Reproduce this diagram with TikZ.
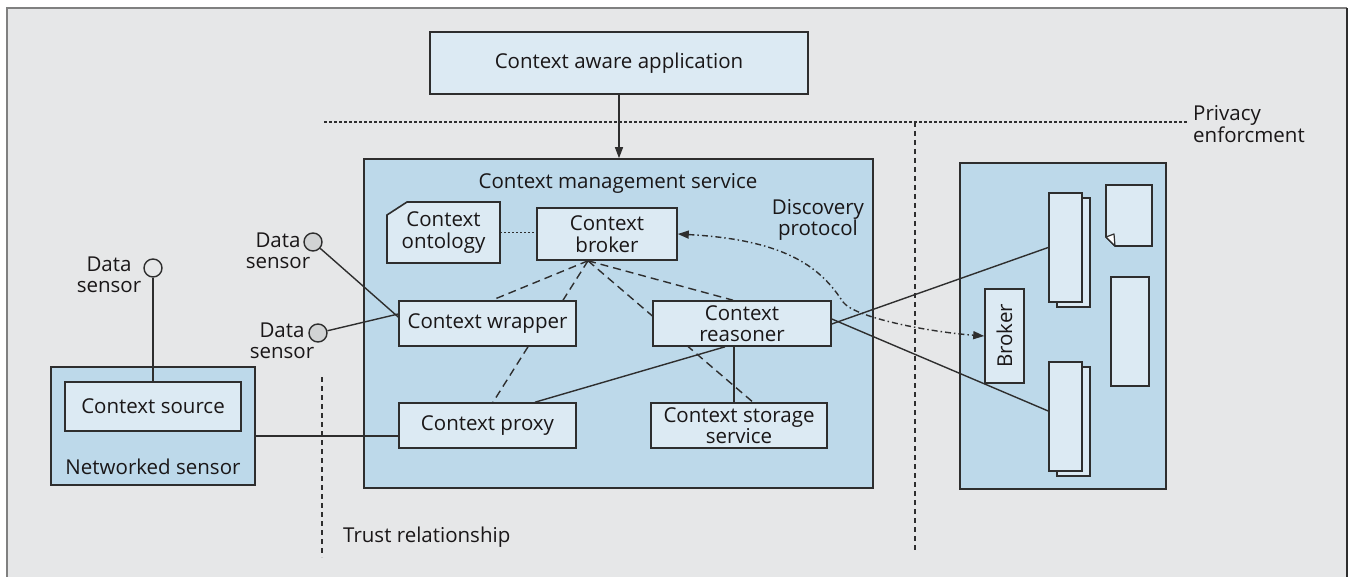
\documentclass[tikz,border=0pt]{standalone}
\usepackage{fontspec}
\setmainfont{Open Sans}
\usetikzlibrary{arrows.meta,calc}
\definecolor{bgc}{HTML}{E6E7E8}
\definecolor{contf}{HTML}{BDD9EA}
\definecolor{boxf}{HTML}{DCEAF3}
\definecolor{lc}{HTML}{2E2E2E}
\definecolor{txt}{HTML}{1A1718}
\definecolor{sensf}{HTML}{D1D3D4}
\definecolor{framec}{HTML}{808080}
\pgfdeclarelayer{back}
\pgfdeclarelayer{lines}
\pgfsetlayers{back,lines,main}
\begin{document}
\begin{tikzpicture}[x=1pt,y=-1pt,
  font=\fontsize{20.5}{21.5}\selectfont,
  every node/.style={text=txt},
  box/.style={draw=lc, fill=boxf, line width=1.6pt, inner sep=0pt, align=center},
  contbox/.style={draw=lc, fill=contf, line width=1.6pt, inner sep=0pt},
  conn/.style={draw=lc, line width=1.4pt},
  dashconn/.style={conn, dash pattern=on 8pt off 5pt},
  dotconn/.style={conn, dash pattern=on 2pt off 2pt},
  sepline/.style={draw=lc, line width=2.4pt, dash pattern=on 5pt off 4pt},
  sepdots/.style={draw=lc, line width=2.4pt, dash pattern=on 3pt off 2pt},
  sensor/.style={circle, draw=lc, line width=1.4pt, minimum size=18pt, inner sep=0pt},
  lbl/.style={align=center, inner sep=0pt}
]
\useasboundingbox (0,0) rectangle (1351,577);

% ---------- background layer: frame and containers
\begin{pgfonlayer}{back}
  \fill[white] (0,0) rectangle (1351,577);
  \fill[bgc] (7,8) rectangle (1347,577);
  \draw[framec, line width=2pt] (7,577) -- (7,8) -- (1347,8);
  \draw[lc, line width=2pt] (1347,8) -- (1347,577);
  \node[contbox, minimum width=509, minimum height=329] (cms) at (618.5,323.5) {};
  \node[contbox, minimum width=206, minimum height=326] (rc) at (1063,326) {};
  \node[contbox, minimum width=204, minimum height=118] (ns) at (153,426) {};
\end{pgfonlayer}

% ---------- boxes
\node[box, minimum width=378, minimum height=62] (app) at (619,63) {Context aware application};
\node[lbl] (cmstitle) at (618,183) {Context management service};
\node[lbl] (ont) at (443.5,232.5) {Context\\ontology};
\node[box, minimum width=140, minimum height=52] (broker) at (607,234) {Context\\broker};
\node[box, minimum width=177, minimum height=45] (wrapper) at (487.5,323.5) {Context wrapper};
\node[box, minimum width=178, minimum height=45] (reasoner) at (742,323.5) {Context\\reasoner};
\node[box, minimum width=177, minimum height=45] (proxy) at (487.5,425.5) {Context proxy};
\node[box, minimum width=176, minimum height=45] (storage) at (739,425.5) {Context storage\\service};
\node[lbl] (disc) at (818,220) {Discovery\\protocol};

\node[box, minimum width=176, minimum height=49] (src) at (153,406.5) {Context source};
\node[lbl] (nslabel) at (153,467) {Networked sensor};

\node[sensor, fill=bgc] (s1) at (153,268) {};
\node[sensor, fill=sensf] (s2) at (313,242) {};
\node[sensor, fill=sensf] (s3) at (318,333) {};
\node[lbl] (s1l) at (109,275) {Data\\sensor};
\node[lbl] (s2l) at (278,251) {Data\\sensor};
\node[lbl] (s3l) at (282,341) {Data\\sensor};

% right container content
\node[box, minimum width=39, minimum height=94] (brk) at (1004.5,336) {};
\node[rotate=90, inner sep=0pt] (brktext) at (brk.center) {Broker};
\draw[lc, fill=boxf, line width=1.6pt] (1057,198) rectangle (1090,307);
\node[box, minimum width=33, minimum height=109] (doc1) at (1065.5,247.5) {};
\draw[lc, fill=boxf, line width=1.6pt] (1057,367) rectangle (1090,476);
\node[box, minimum width=33, minimum height=109] (doc2) at (1065.5,416.5) {};
\draw[lc, fill=boxf, line width=1.6pt] (1106,185) -- (1152,185) -- (1152,246) -- (1115,246) -- (1106,237) -- cycle;
\draw[lc, fill=white, line width=1.2pt, line join=round] (1106,237) -- (1114,234) -- (1115,246) -- cycle;
\node[box, minimum width=38, minimum height=109] (rbox) at (1130,331.5) {};

\node[lbl, anchor=west, align=left] (priv) at (1193,124) {Privacy\\enforcment};
\node[lbl, anchor=west] (trust) at (343,537) {Trust relationship};

% ---------- connectors layer
\begin{pgfonlayer}{lines}
  % ontology shape (cut corner)
  \draw[lc, fill=boxf, line width=1.6pt] (387,215) -- (407,202) -- (500,202) -- (500,263) -- (387,263) -- cycle;
  \draw[conn, -{Triangle[length=11pt,width=8pt]}] (app.south) -- (app.south |- cms.north);
  \draw[dotconn] (500,232.5) -- (ont.east -| broker.west);
  \coordinate (bk) at ([xshift=-19]broker.south);
  \draw[dashconn] (bk) -- ([xshift=4.5]wrapper.north);
  \draw[dashconn] (bk) -- ([xshift=75.5]wrapper.north);
  \draw[dashconn] (bk) -- ([xshift=-9]reasoner.north);
  \draw[dashconn] (bk) -- ([xshift=14]storage.north);
  \draw[dashconn] ([xshift=40.5]wrapper.south) -- ([xshift=5.5]proxy.north);
  \draw[conn] ([xshift=-17]reasoner.south) -- ([xshift=47.5]proxy.north);
  \draw[conn] ([xshift=-8]reasoner.south) -- ([xshift=-5]storage.north);
  \draw[conn] ([yshift=-0.5]reasoner.east) -- (doc1.west);
  \draw[conn] ([yshift=4.5]reasoner.east) -- ([yshift=5.5]doc2.west);
  \draw[conn] (s1) -- (src.north);
  \draw[conn] (s2) -- ([yshift=6.5]wrapper.west);
  \draw[conn] (s3) -- ([yshift=9.5]wrapper.west);
  \draw[conn] ([yshift=-10]ns.east) -- ([yshift=-10]ns.east -| proxy.west);
  \draw[conn, dash pattern=on 6pt off 3pt on 1.5pt off 3pt, {Triangle[length=11pt,width=8pt]}-{Triangle[length=11pt,width=8pt]}]
    (broker.east) .. controls (790,240) and (822,270) .. (843,302)
    .. controls (855,318) and (930,332) .. (brk.west);
  % separators
  \coordinate (hl) at (324,122);
  \coordinate (hr) at (1188,122);
  \draw[sepdots] (hl) -- (hr);
  \coordinate (v1t) at (915,122);
  \coordinate (v1b) at (915,552);
  \draw[sepline] (v1t) -- (v1b);
  \coordinate (v2t) at (322,377);
  \coordinate (v2b) at (322,557);
  \draw[sepline] (v2t) -- (v2b);
\end{pgfonlayer}
\end{tikzpicture}
\end{document}
